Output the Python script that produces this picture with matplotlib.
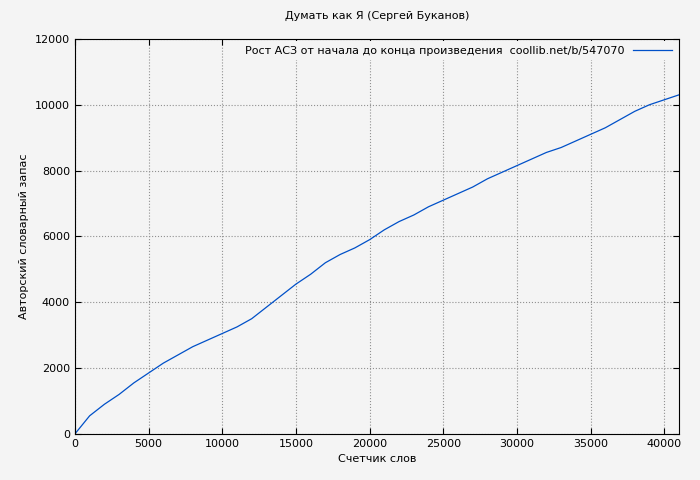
import matplotlib
matplotlib.use("Agg")
import matplotlib.pyplot as plt

# данные
words = [0, 1000, 2000, 3000, 4000, 5000, 6000, 7000, 8000, 9000, 10000,
         11000, 12000, 13000, 14000, 15000, 16000, 17000, 18000, 19000, 20000,
         21000, 22000, 23000, 24000, 25000, 26000, 27000, 28000, 29000, 30000,
         31000, 32000, 33000, 34000, 35000, 36000, 37000, 38000, 39000, 40000, 41000]
vocab = [0, 550, 900, 1200, 1550, 1850, 2150, 2400, 2650, 2850, 3050,
         3250, 3500, 3850, 4200, 4550, 4850, 5200, 5450, 5650, 5900,
         6200, 6450, 6650, 6900, 7100, 7300, 7500, 7750, 7950, 8150,
         8350, 8550, 8700, 8900, 9100, 9300, 9550, 9800, 10000, 10150, 10300]

plt.rcParams['font.size'] = 8
fig = plt.figure(figsize=(7, 4.8), dpi=100, facecolor='#f4f4f4')
ax = fig.add_axes([0.107, 0.096, 0.863, 0.823], facecolor='#f4f4f4')
ax.plot(words, vocab, color='#0050c8', lw=0.9,
        label='Рост АСЗ от начала до конца произведения  coollib.net/b/547070')
ax.set_xlim(0, 41000)
ax.set_ylim(0, 12000)
ax.set_xticks(range(0, 41000, 5000))
ax.set_yticks(range(0, 12001, 2000))
ax.grid(True, linestyle=':', color='#909090', lw=0.8)
ax.tick_params(direction='in', length=4, top=True, right=True)
ax.set_title('Думать как Я (Сергей Буканов)', fontsize=8, pad=14)
ax.set_xlabel('Счетчик слов')
ax.set_ylabel('Авторский словарный запас')
leg = ax.legend(loc='upper right', frameon=True, markerfirst=False, handlelength=3.5,
                fancybox=False, facecolor='#f4f4f4', edgecolor='none', framealpha=1,
                borderaxespad=0.2)
fig.savefig('out.png', dpi=100, facecolor=fig.get_facecolor())
